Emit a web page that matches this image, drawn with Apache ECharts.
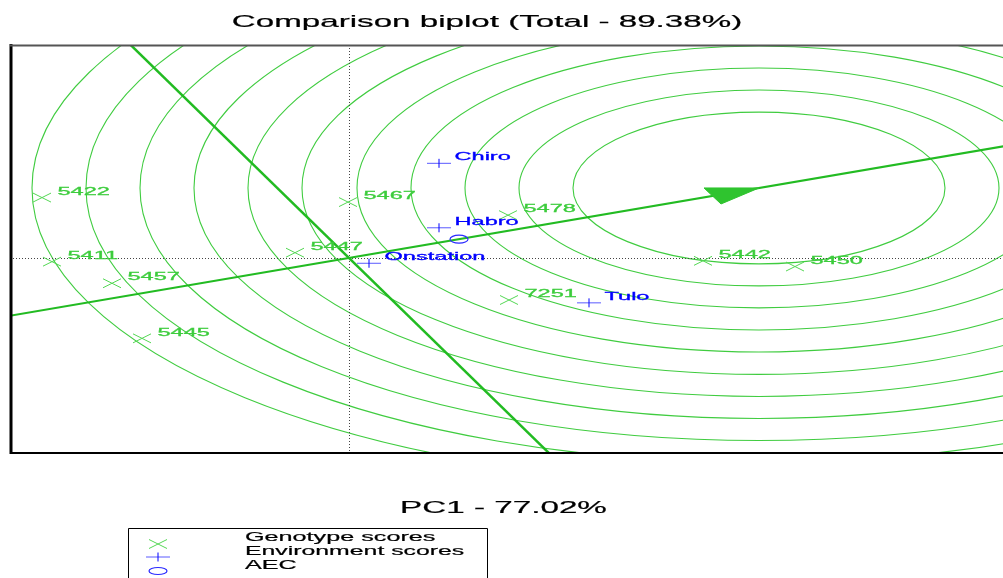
<!DOCTYPE html>
<html>
<head>
<meta charset="utf-8">
<script src="https://cdn.jsdelivr.net/npm/echarts@6/dist/echarts.min.js"></script>
<style>
  html, body { margin: 0; padding: 0; background: #ffffff; overflow: hidden; width: 1003px; height: 578px; }
  #chart { width: 1060px; height: 578px; }
</style>
</head>
<body>
<div id="chart"></div>
<script>
// Genotype scores (PC1, PC2)
const genotypeNames = ['5422', '5411', '5457', '5445', '5447', '5467', '5478', '5442', '5450', '7251'];
const genotypePC1 = [-3.07, -2.97, -2.37, -2.07, -0.54, -0.01, 1.59, 3.54, 4.46, 1.60];
const genotypePC2 = [1.48, -0.09, -0.62, -1.97, 0.13, 1.37, 1.05, -0.07, -0.21, -1.03];

// Environment scores (PC1, PC2)
const envNames = ['Chiro', 'Habro', 'Onstation', 'Tulo'];
const envPC1 = [0.90, 0.90, 0.20, 2.40];
const envPC2 = [2.32, 0.74, -0.13, -1.10];

// Average environment coordinate (AEC point)
const aecPoint = [1.10, 0.46];
// Ideal genotype: centre of the comparison circles, end of the AEC arrow
const idealPoint = [4.10, 1.716];
// Radii of the concentric comparison circles
const circleRadii = [1.86, 2.40, 2.94, 3.48, 4.02, 4.57, 5.11, 5.65, 6.19, 6.73, 7.27];

// Visible extents of the two principal components
const pc1Range = [-3.39, 7.01];
const pc2Range = [-4.78, 5.22];

const titleText = 'Comparison biplot (Total - 89.38%)';
const xAxisName = 'PC1 - 77.02%';
const legendItems = ['Genotype scores', 'Environment scores', 'AEC'];

const FONT = '"Liberation Sans", Arial, sans-serif';
const GREEN_TEXT = '#3ccc3c';
const GREEN_CIRCLE = '#40cc40';
const GREEN_LINE = '#22bb22';
const BLUE = '#0000ff';
const STRETCH = 2.05;

function clipRect(params) {
  const cs = params.coordSys;
  return { type: 'rect', shape: { x: cs.x, y: cs.y, width: cs.width, height: cs.height } };
}

// Wide, horizontally stretched text in the style of the plotting device
function stretchedText(x, y, text, size, color, align, scale, weight) {
  return {
    type: 'text', x: x, y: y, scaleX: scale,
    style: {
      text: text, fill: color, font: size + 'px ' + FONT,
      textAlign: align, textVerticalAlign: 'middle',
      align: align, verticalAlign: 'middle',
      stroke: weight ? color : null, lineWidth: weight || 0
    }
  };
}

const chart = echarts.init(document.getElementById('chart'), null, { renderer: 'canvas' });

const option = {
  animation: false,
  backgroundColor: '#ffffff',
  grid: { left: 10, top: 45, width: 1040, height: 408, containLabel: false },
  xAxis: {
    type: 'value', min: pc1Range[0], max: pc1Range[1],
    axisLine: { show: false }, axisTick: { show: false },
    axisLabel: { show: false }, splitLine: { show: false }
  },
  yAxis: {
    type: 'value', min: pc2Range[0], max: pc2Range[1],
    axisLine: { show: false }, axisTick: { show: false },
    axisLabel: { show: false }, splitLine: { show: false }
  },
  series: [
    {
      // concentric comparison circles around the ideal genotype
      type: 'custom',
      silent: true,
      data: circleRadii.map(r => [idealPoint[0], idealPoint[1], r]),
      renderItem: function (params, api) {
        const c = api.coord([api.value(0), api.value(1)]);
        const s = api.size([api.value(2), api.value(2)]);
        return {
          type: 'ellipse',
          shape: { cx: c[0], cy: c[1], rx: s[0], ry: s[1] },
          style: { fill: null, stroke: GREEN_CIRCLE, lineWidth: 1.1 },
          clipPath: clipRect(params)
        };
      },
      z: 1
    },
    {
      // origin reference lines, AEC abscissa with arrow, AEC ordinate
      type: 'custom',
      silent: true,
      data: [[0, 0]],
      renderItem: function (params, api) {
        const cs = params.coordSys;
        const o = api.coord([0, 0]);
        const a = api.coord(aecPoint);
        const dx = a[0] - o[0], dy = a[1] - o[1];
        const far = 40;
        const p = api.coord([-aecPoint[1], aecPoint[0]]);
        const px = p[0] - o[0], py = p[1] - o[1];
        const tip = api.coord(idealPoint);
        return {
          type: 'group',
          clipPath: clipRect(params),
          children: [
            { type: 'line', shape: { x1: cs.x, y1: Math.round(o[1]) + 0.5, x2: cs.x + cs.width, y2: Math.round(o[1]) + 0.5 },
              style: { stroke: '#444', lineWidth: 1, lineDash: [1, 2] } },
            { type: 'line', shape: { x1: Math.round(o[0]) + 0.5, y1: cs.y, x2: Math.round(o[0]) + 0.5, y2: cs.y + cs.height },
              style: { stroke: '#444', lineWidth: 1, lineDash: [1, 2] } },
            { type: 'line', shape: { x1: o[0] - dx * far, y1: o[1] - dy * far, x2: o[0] + dx * far, y2: o[1] + dy * far },
              style: { stroke: GREEN_LINE, lineWidth: 2 } },
            { type: 'line', shape: { x1: o[0] - px * far, y1: o[1] - py * far, x2: o[0] + px * far, y2: o[1] + py * far },
              style: { stroke: GREEN_LINE, lineWidth: 2.5 } },
            { type: 'polygon', shape: { points: [[tip[0], tip[1]], [tip[0] - 55, tip[1]], [tip[0] - 38, tip[1] + 16]] },
              style: { fill: '#2fc42f', stroke: '#2fc42f', lineWidth: 1 } }
          ]
        };
      },
      z: 2
    },
    {
      // genotype markers (x) with their labels
      type: 'custom',
      silent: true,
      data: genotypePC1.map((x, i) => [x, genotypePC2[i], i]),
      renderItem: function (params, api) {
        const c = api.coord([api.value(0), api.value(1)]);
        const name = genotypeNames[api.value(2)];
        return {
          type: 'group',
          children: [
            { type: 'line', shape: { x1: c[0] - 9, y1: c[1] - 4.5, x2: c[0] + 9, y2: c[1] + 4.5 },
              style: { stroke: '#55d855', lineWidth: 1 } },
            { type: 'line', shape: { x1: c[0] - 9, y1: c[1] + 4.5, x2: c[0] + 9, y2: c[1] - 4.5 },
              style: { stroke: '#55d855', lineWidth: 1 } },
            stretchedText(c[0] + 15.5, c[1] - 6, name, 11.5, GREEN_TEXT, 'left', STRETCH, 0.3)
          ]
        };
      },
      z: 3
    },
    {
      // environment markers (+) with their labels
      type: 'custom',
      silent: true,
      data: envPC1.map((x, i) => [x, envPC2[i], i]),
      renderItem: function (params, api) {
        const c = api.coord([api.value(0), api.value(1)]);
        const name = envNames[api.value(2)];
        return {
          type: 'group',
          children: [
            { type: 'line', shape: { x1: c[0] - 12, y1: c[1], x2: c[0] + 12, y2: c[1] },
              style: { stroke: '#5a5aff', lineWidth: 1 } },
            { type: 'line', shape: { x1: c[0], y1: c[1] - 4.5, x2: c[0], y2: c[1] + 4.5 },
              style: { stroke: BLUE, lineWidth: 1 } },
            stretchedText(c[0] + 15.5, c[1] - 6, name, 11.5, BLUE, 'left', STRETCH, 0.3)
          ]
        };
      },
      z: 4
    },
    {
      // average environment coordinate marker (o)
      type: 'custom',
      silent: true,
      data: [aecPoint],
      renderItem: function (params, api) {
        const c = api.coord([api.value(0), api.value(1)]);
        return {
          type: 'ellipse',
          shape: { cx: c[0], cy: c[1], rx: 9, ry: 4 },
          style: { fill: null, stroke: '#2a2aff', lineWidth: 1.2 }
        };
      },
      z: 4
    }
  ],
  graphic: [
    // plot frame
    { type: 'line', z: 10, shape: { x1: 11, y1: 44, x2: 11, y2: 454 }, style: { stroke: '#000', lineWidth: 3 } },
    { type: 'line', z: 10, shape: { x1: 10, y1: 45.5, x2: 1050, y2: 45.5 }, style: { stroke: '#555', lineWidth: 2 } },
    { type: 'line', z: 10, shape: { x1: 10, y1: 453, x2: 1050, y2: 453 }, style: { stroke: '#000', lineWidth: 2 } },
    // title and axis name
    Object.assign(stretchedText(487, 22.4, titleText, 17, '#000', 'center', 1.95, 0.2), { z: 10 }),
    Object.assign(stretchedText(503.5, 508.6, xAxisName, 16.3, '#000', 'center', 2.04, 0.2), { z: 10 }),
    // legend box
    { type: 'rect', z: 10, shape: { x: 128.5, y: 528.5, width: 359, height: 80 }, style: { fill: null, stroke: '#000', lineWidth: 1 } },
    { type: 'line', z: 10, shape: { x1: 149, y1: 539.5, x2: 167, y2: 548.5 }, style: { stroke: '#55d855', lineWidth: 1 } },
    { type: 'line', z: 10, shape: { x1: 149, y1: 548.5, x2: 167, y2: 539.5 }, style: { stroke: '#55d855', lineWidth: 1 } },
    { type: 'line', z: 10, shape: { x1: 146, y1: 557, x2: 170, y2: 557 }, style: { stroke: '#5a5aff', lineWidth: 1 } },
    { type: 'line', z: 10, shape: { x1: 158, y1: 552.5, x2: 158, y2: 561.5 }, style: { stroke: BLUE, lineWidth: 1 } },
    { type: 'ellipse', z: 10, shape: { cx: 158, cy: 571, rx: 9, ry: 3.5 }, style: { fill: null, stroke: '#2a2aff', lineWidth: 1.2 } },
    Object.assign(stretchedText(245, 537.3, legendItems[0], 12.6, '#000', 'left', 2.0, 0.2), { z: 10 }),
    Object.assign(stretchedText(245, 551.3, legendItems[1], 12.6, '#000', 'left', 1.97, 0.2), { z: 10 }),
    Object.assign(stretchedText(245, 565.6, legendItems[2], 12.6, '#000', 'left', 2.0, 0.2), { z: 10 })
  ]
};

chart.setOption(option);
</script>
</body>
</html>
